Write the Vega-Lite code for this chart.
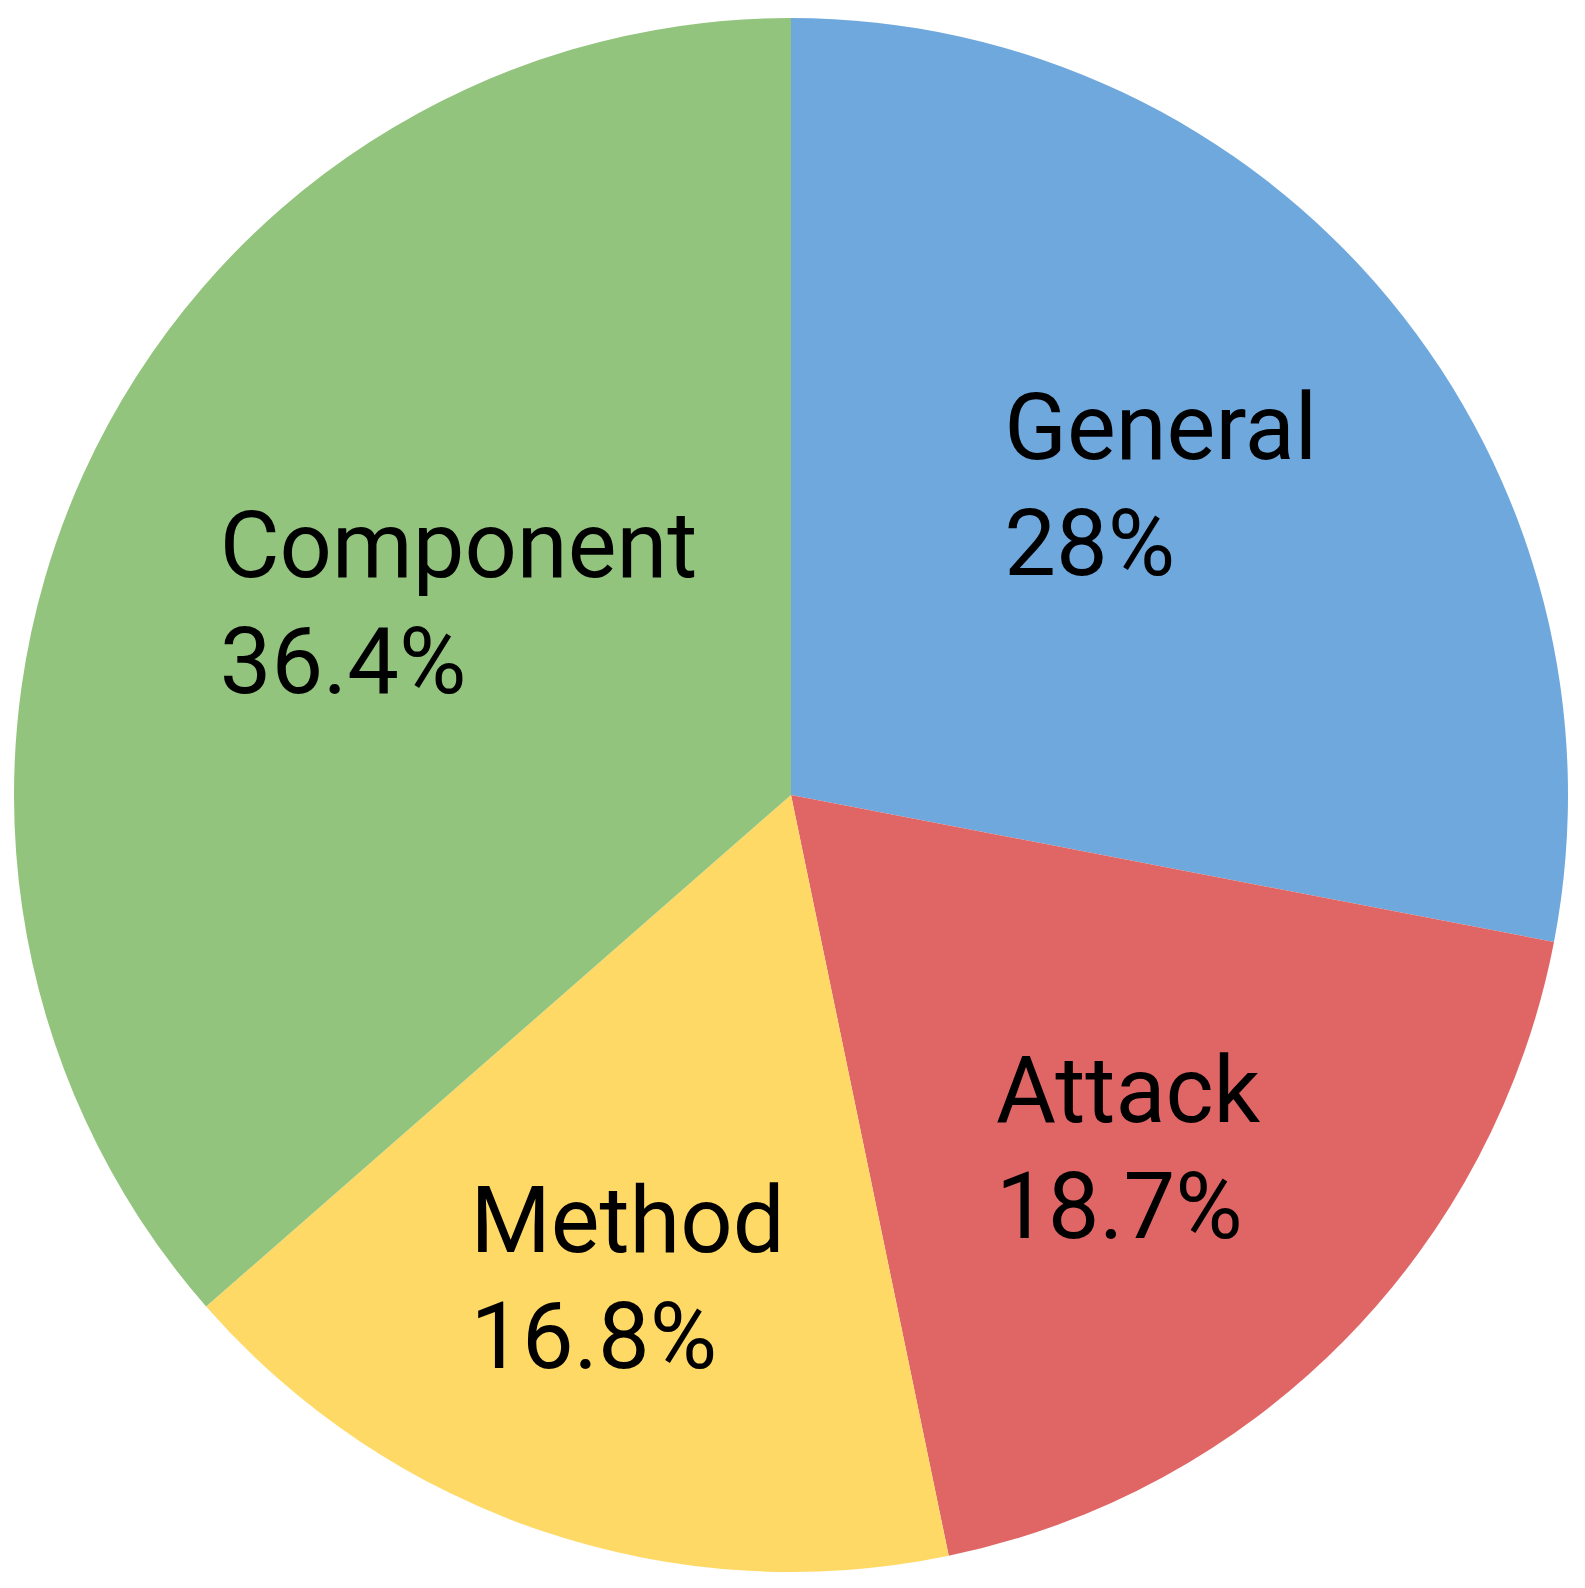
{
  "$schema": "https://vega.github.io/schema/vega-lite/v6.json",
  "width": 1585,
  "height": 1588,
  "autosize": {"type": "fit", "contains": "padding"},
  "padding": {"left": 0, "right": 3, "top": 2, "bottom": 0},
  "background": "white",
  "config": {"view": {"stroke": null}},
  "data": {
    "values": [
      {"category": "General", "pct": 28, "rank": 1},
      {"category": "Attack", "pct": 18.7, "rank": 2},
      {"category": "Method", "pct": 16.8, "rank": 3},
      {"category": "Component", "pct": 36.4, "rank": 4}
    ]
  },
  "transform": [
    {"calculate": "datum.category + '\\n' + datum.pct + '%'", "as": "label"}
  ],
  "encoding": {
    "theta": {"field": "pct", "type": "quantitative", "stack": true},
    "order": {"field": "rank", "type": "quantitative"}
  },
  "layer": [
    {
      "mark": {"type": "arc", "outerRadius": 777},
      "encoding": {
        "color": {
          "field": "category",
          "type": "nominal",
          "scale": {
            "domain": ["General", "Attack", "Method", "Component"],
            "range": ["#6FA8DC", "#E06666", "#FFD966", "#93C47D"]
          },
          "legend": null
        }
      }
    },
    {
      "mark": {
        "type": "text",
        "dx": -157,
        "dy": -58,
        "align": "left",
        "baseline": "middle",
        "font": "Roboto",
        "fontSize": 92,
        "lineHeight": 116,
        "lineBreak": "\n",
        "color": "#000000"
      },
      "encoding": {
        "text": {"field": "label", "type": "nominal"},
        "radius": {
          "field": "pct",
          "type": "quantitative",
          "scale": {"type": "linear", "zero": false, "domain": [16.8, 36.4], "range": [514, 455]},
          "legend": null
        }
      }
    }
  ]
}
